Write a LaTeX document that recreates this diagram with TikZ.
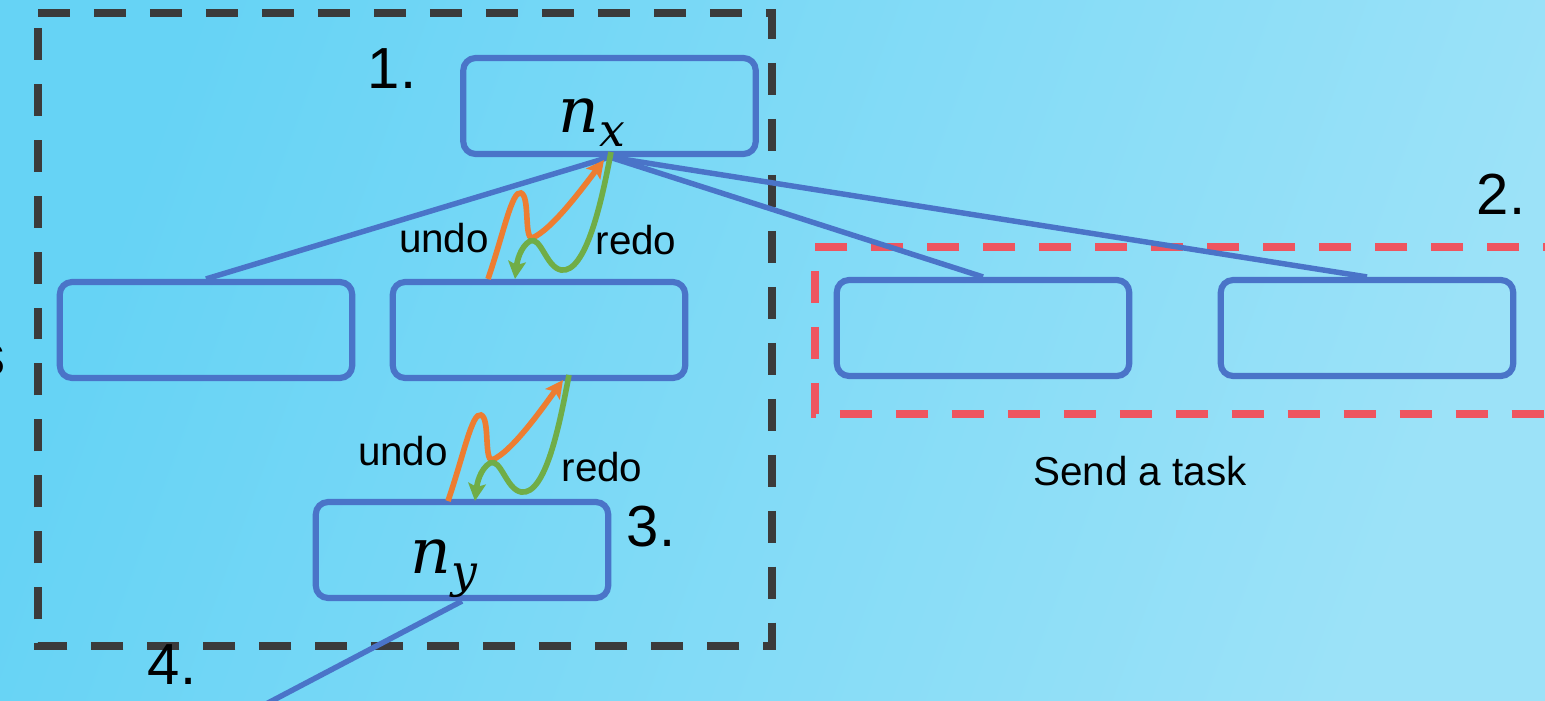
\documentclass[tikz,border=0pt]{standalone}
\usepackage{fontspec}
\setmainfont{Liberation Sans}
\newfontfamily\dvserif{DejaVu Serif}
\usetikzlibrary{arrows.meta,calc}
\definecolor{bgA}{HTML}{66D3F5}
\definecolor{bgB}{HTML}{9CE2F8}
\definecolor{boxblue}{HTML}{4A74C8}
\definecolor{arrorange}{HTML}{ED7D31}
\definecolor{arrgreen}{HTML}{70AD47}
\definecolor{dashred}{HTML}{EE5560}
\definecolor{dashblack}{HTML}{3B3B3B}
\begin{document}
\begin{tikzpicture}[x=0.02cm,y=-0.02cm,
  taskbox/.style={draw=boxblue,line width=3.5pt,rounded corners=7pt,minimum width=5.85cm,minimum height=1.92cm,inner sep=0pt},
  link/.style={draw=boxblue,line width=3.1pt},
  undoarrow/.style={draw=arrorange,line width=3.2pt,-{Stealth[length=10pt,width=10pt,inset=2pt]}},
  redoarrow/.style={draw=arrgreen,line width=3.2pt,-{Stealth[length=10pt,width=10pt,inset=2pt]}},
  numlabel/.style={font=\fontsize{33}{36}\selectfont,inner sep=0pt},
  wordlabel/.style={font=\fontsize{23}{26}\selectfont,inner sep=0pt},
  mathlabel/.style={font=\dvserif\itshape\fontsize{36}{40}\selectfont,inner sep=0pt},
  groupblack/.style={draw=dashblack,line width=4.5pt,dash pattern=on 0.64cm off 0.48cm},
  groupred/.style={draw=dashred,line width=4pt,dash pattern=on 0.64cm off 0.48cm,dash phase=0.22cm}]
\useasboundingbox (0,0) rectangle (1545,700);
\clip (0,0) rectangle (1545,700);
\shade[left color=bgA,right color=bgB,shading angle=70] (0,0) rectangle (1545,700);

% group frames
\draw[groupblack] (38,13) -- (772,13) -- (772,646) -- (38,646) -- cycle;
\draw[groupred] (1620,247) -- (815,247) -- (815,414) -- (1620,414);

% boxes
\node[taskbox] (nx) at (609.5,106) {};
\node[taskbox] (ba) at (206,330) {};
\node[taskbox] (bb) at (539,330) {};
\node[taskbox] (bc) at (983,328) {};
\node[taskbox] (bd) at (1367,328) {};
\node[taskbox] (ny) at (462,550) {};

\node[mathlabel,anchor=base west] (nxt) at (558,132) {n\raisebox{-8.5pt}{\fontsize{26}{28}\selectfont x}};
\node[mathlabel,anchor=base west] (nyt) at (410,573) {n\raisebox{-8.5pt}{\fontsize{26}{28}\selectfont y}};

% connectors
\coordinate (outend) at (266,704);
\draw[link] (nx.south) -- (ba.north);
\draw[link] (nx.south) -- (bc.north);
\draw[link] (nx.south) -- (bd.north);
\draw[link] (ny.south) -- (outend);

% undo / redo upper
\coordinate (uo1) at (488,279);
\coordinate (uo2) at (604,160);
\coordinate (ug1) at (611,152);
\coordinate (ug2) at (515,279);
\draw[undoarrow] (uo1) .. controls (504,232) and (512,190) .. (521,193)
  .. controls (530,196) and (524,238) .. (532,238)
  .. controls (552,230) and (584,186) .. (uo2);
\draw[redoarrow] (ug1) .. controls (602,200) and (586,274) .. (561,270)
  .. controls (546,267) and (541,236) .. (530,241)
  .. controls (520,247) and (517,262) .. (ug2);

% undo / redo lower
\coordinate (lo1) at (448,501);
\coordinate (lo2) at (563,380);
\coordinate (lg1) at (569,375);
\coordinate (lg2) at (475,501);
\draw[undoarrow] (lo1) .. controls (464,454) and (472,412) .. (481,415)
  .. controls (490,418) and (484,460) .. (492,460)
  .. controls (512,452) and (544,406) .. (lo2);
\draw[redoarrow] (lg1) .. controls (560,422) and (546,496) .. (521,492)
  .. controls (506,489) and (501,458) .. (490,463)
  .. controls (480,469) and (477,484) .. (lg2);

% labels
\node[wordlabel,anchor=base] (u1) at (444,252) {undo};
\node[wordlabel,anchor=base] (r1) at (636,254) {redo};
\node[wordlabel,anchor=base] (u2) at (403,465) {undo};
\node[wordlabel,anchor=base] (r2) at (602,481) {redo};
\node[wordlabel,anchor=base] (send) at (1140,485) {Send a task};

\node[numlabel,anchor=base] (l1) at (392,88) {1.};
\node[numlabel,anchor=base] (l2) at (1501,214) {2.};
\node[numlabel,anchor=base] (l3) at (651,546) {3.};
\node[numlabel,anchor=base] (l4) at (172,684) {4.};
\node[numlabel,anchor=base east] (l5) at (6,375) {s};
\end{tikzpicture}
\end{document}
